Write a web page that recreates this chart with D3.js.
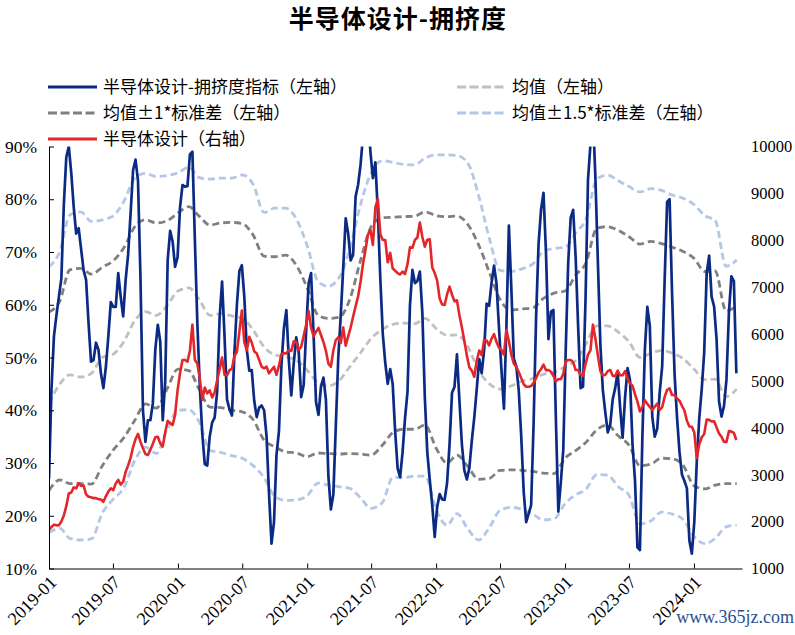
<!DOCTYPE html>
<html><head><meta charset="utf-8">
<script src="https://cdn.jsdelivr.net/npm/d3@7"></script>
<style>body{margin:0;background:#fff}</style>
</head><body>
<svg id="c" width="795" height="635"></svg>
<script>
// ---------- data ----------
const weekStart = "2019-01-01";   // weekly series start
const crowdIndex = [
27,44,54,58,61.5,65,79,88,90,85,
78.5,73.5,74.5,70.5,66.5,64.7,56.5,49.2,49.5,52.8,
51.5,47,44.2,48.2,54,60.5,59.6,59.6,66,61.5,
57.8,64.7,69.5,77.3,85.5,87.5,83.5,65,40,34,
38.1,38.1,41.3,51.5,56.2,53,38.1,45.5,68.5,74,
72,67.2,69,78.5,82.7,82.4,82.5,88.5,89,72.3,
56.5,44.5,35.5,29.8,29.5,35,37.7,38.6,43.5,57.5,
64.4,54,42,40.2,39,51,60,66.4,67.5,61.5,
51.5,47.5,47.6,41.8,38.7,40.5,40.9,40,35,24,
14.7,18.8,31.5,36,48.5,55.5,59,49.5,42.8,49,
53.8,51,42.5,44.8,55,64,66,54.5,41.5,39.1,
44.5,46.2,42,27.5,21.2,24,37,50,58,67,
76.4,73.5,68.4,69.5,80.5,82.7,86.5,92,96,96,
89,84,87,77.5,65,54.5,49,45,47.8,45,
36,29,27.3,32,38.5,43.5,60,66.6,64.1,64.5,
66.3,58.5,42.5,32,26.8,22,16,21.7,24.1,23.1,
23,26.2,33.5,43.3,44.4,50.6,41.8,33.5,28.6,26.9,
29,34.2,38.6,44,49.7,47,51.5,60.2,59.8,64.2,
67.4,64,55.6,47.6,40.3,55.8,75,63,49.8,48.3,
43.7,35,24.5,18.8,20.4,22,37.5,57.5,71.5,78,
81.2,70,53.5,58.7,59,38.5,20.8,26.3,32.5,51.5,
68,76.5,78,69,56,44.2,44.5,61,83.7,90.5,
96,84,68,52.5,43.8,39.6,35.8,37.3,42.1,44.2,
47.2,40.5,34.8,42.5,48,45.7,33.5,26.8,14,13.5,
35,51.5,59.6,56,38.8,35,36.5,43.4,48.3,64.7,
79.5,80,62.2,47,38.7,32.1,27.8,26.6,25.2,15.3,
12.8,18.9,30.3,38.5,44,51,66,69.3,61.5,59.7,
53.5,41.7,38.8,40.8,45.8,58.5,65.4,64.5,47
];
const sectorPrice = [
1830,1885,1935,1920,1925,2000,2130,2330,2600,2620,
2730,2710,2820,2760,2770,2580,2529,2520,2500,2500,
2480,2470,2422,2540,2640,2710,2671,2815,2890,2790,
2850,3060,3200,3360,3590,3760,3870,3700,3565,3440,
3420,3530,3660,3800,3810,3668,3600,3900,4150,4095,
4060,4280,4800,5170,5446,5446,5410,5650,6200,5446,
5370,5050,4600,4860,4735,4800,4650,4760,5010,5250,
5500,5130,5120,5230,5260,5530,5620,6050,6500,5830,
5650,5943,5820,5630,5589,5446,5304,5270,5304,5162,
5233,5300,5130,5320,5570,5589,5589,5660,5640,5845,
5830,5660,5730,5960,6200,6490,6140,5950,6050,6130,
5980,5830,5640,5370,5304,5650,5873,5930,5810,6140,
5750,5950,6140,6370,6590,6797,7110,7500,7793,8120,
8220,7900,8700,8880,8130,8007,8007,7530,7730,7400,
7350,7300,7270,7330,7280,7490,7850,7840,8007,8060,
8380,8070,7864,8010,8020,7420,7300,7140,6760,6630,
6620,6850,7010,6840,6700,6720,6400,6140,5850,5540,
5290,5220,5090,5430,5650,5550,5873,5860,5760,5900,
6000,5830,5710,5660,5560,6086,5850,5560,5370,5300,
5190,5060,4930,4877,4877,4890,4960,5060,5180,5250,
5350,5230,5233,5195,5110,4990,5040,5035,5150,5420,
5446,5446,5400,5233,5233,5130,5110,5360,5560,5650,
6200,5900,5540,5210,5120,5130,5210,5233,5110,5100,
5220,5120,5120,5210,5050,4949,4900,4720,4560,4350,
4450,4590,4510,4445,4379,4450,4515,4380,4440,4660,
4810,4841,4700,4700,4625,4580,4470,4370,4150,4030,
4023,3900,3350,3650,3800,3870,4175,4170,4135,4140,
4010,3880,3810,3700,3700,3930,3920,3890,3740
];
const monthStart = "2019-01-01";  // monthly band series start
const meanVals = [41.3,45,46.7,46.3,47,50,50.6,53,57,58.7,58,59.8,62.6,63.2,61,58,58.3,57.9,57.5,55.2,52,50.5,50.1,49.5,47.6,45.2,44.6,45.6,48.2,50.9,53.6,55.3,56.3,56.5,56.4,57.4,55.5,54.2,54.3,52,47.6,45,44,44.6,45.5,46,46.8,47.2,48.2,49.5,52.5,56,56,54.8,53,50,50.8,51.3,50.8,49.8,47.8,45.8,45.9,42.6,44];
const up1Vals = [58.6,60.8,66.6,66.9,65.8,67.1,68.3,70.8,74.8,76.1,75.5,75.9,77.4,78.6,76.8,75.1,75.5,75.6,75.4,73.2,69.2,69.1,69.4,67.5,63.2,58,57.4,57.6,60.9,68.4,74.8,76.5,76.6,76.7,76.8,77.6,76.9,76.7,76.8,75.2,71.4,66.1,61,59,59.2,59.4,61.2,62.2,62.6,65.7,67.9,74.5,74.8,74.1,72.9,71.5,72,71.6,70.9,70.1,68.8,66.3,66.4,58.8,59.9];
const dn1Vals = [24.8,26.8,26.1,26.1,26,29.5,32.4,34.8,38.1,41.2,40.4,44,47.8,47.5,44,40.6,40.5,40,39.7,38.2,34.3,33.1,32.1,31.9,31.2,31.9,31.8,31.7,31.8,31.7,31.5,33.3,35.8,36.4,36.4,37.2,32.8,30,31.5,29.3,26.9,27.1,28.6,28.7,28.6,28.4,28.1,28,30.9,32.4,33.9,36.3,37.2,35.1,33.4,29.5,29.8,30.9,30.8,29.6,25.7,25.1,25.8,26.1,26.1];
const up15Vals = [67.2,70.2,77,77.6,75.8,76.1,76.8,79.6,84,84.9,84.3,84.5,85,86.1,84.1,83.8,84,84,84.6,82.8,77.5,78.3,78.3,76.3,71.2,64.4,63.5,65.1,70.4,79,85,87.3,87,86.6,86.5,87.8,88.4,88.4,88.3,86.8,80.8,72.5,66.5,66.3,66.8,67.7,70.1,70.7,70.9,73.7,76.2,83.8,84.6,83.5,82.4,81.4,82,81.7,80.8,80.2,79,76.9,76,67.3,68.5];
const dn15Vals = [16.8,17.6,15.7,15.4,15.6,20.5,23.1,25.3,30.5,33,31.8,36.3,40,40.1,37.8,32.4,32,31.4,30.9,29.5,27.2,23.7,22.9,23,23.8,26.2,25.8,25.5,25.2,23.4,21.4,22.4,27.3,27.2,27.5,27.5,21.2,18.2,20.4,17.5,15.4,17.8,21,21.6,21.2,20.3,19.2,19.4,22.3,24,25,27.8,27.7,25.5,23.9,18.5,19,20.7,20.3,19.3,16.1,14.7,15.7,17.9,18.2];
const xTickLabels = ["2019-01","2019-07","2020-01","2020-07","2021-01","2021-07","2022-01","2022-07","2023-01","2023-07","2024-01"];
const leftTicks = [10,20,30,40,50,60,70,80,90];
const rightTicks = [1000,2000,3000,4000,5000,6000,7000,8000,9000,10000];
const legendItems = [
  {name:"半导体设计-拥挤度指标（左轴）", color:"#0b2a84", dash:null},
  {name:"均值（左轴）", color:"#c0c0c0", dash:"9,3.5"},
  {name:"均值±1*标准差（左轴）", color:"#808080", dash:"9,3.5"},
  {name:"均值±1.5*标准差（左轴）", color:"#b4c7e7", dash:"9,3.5"},
  {name:"半导体设计（右轴）", color:"#e3262a", dash:null}
];

// ---------- chart ----------
const svg = d3.select("#c");
const parse = d3.timeParse("%Y-%m-%d");
const pL = 49, pR = 742, pT = 146.5, pB = 568.5;
const x = d3.scaleTime().domain([parse("2019-01-01"), parse("2024-05-16")]).range([pL, pR]);
const yL = d3.scaleLinear().domain([10, 90]).range([pB, pT]);
const yR = d3.scaleLinear().domain([1000, 10000]).range([pB, pT]);
const serif = "'Liberation Serif','Times New Roman','DejaVu Serif',serif";
const cjk = "'Noto Sans CJK SC','Noto Sans',sans-serif";

svg.append("text").attr("x", 398).attr("y", 28).attr("text-anchor","middle")
  .style("font-family", cjk).style("font-weight","bold").style("font-size","25px")
  .style("letter-spacing","1px")
  .text("半导体设计-拥挤度");

// legend
const legPos = [[48,87],[457,87],[48,113],[457,113],[48,139]];
legendItems.forEach((d,i)=>{
  const [lx,ly] = legPos[i];
  svg.append("line").attr("x1",lx).attr("x2",lx+49).attr("y1",ly).attr("y2",ly)
    .attr("stroke",d.color).attr("stroke-width",3).attr("stroke-dasharray",d.dash);
  svg.append("text").attr("x",lx+55).attr("y",ly).attr("dy","0.36em")
    .style("font-family",cjk).style("font-size","17px").attr("fill","#000").text(d.name);
});

// clip
svg.append("clipPath").attr("id","clip").append("rect")
  .attr("x",pL).attr("y",pT).attr("width",pR-pL).attr("height",pB-pT);

const wDates = crowdIndex.map((_,i)=>d3.timeDay.offset(parse(weekStart), 7*i));
const mDates = meanVals.map((_,i)=>d3.timeMonth.offset(parse(monthStart), i));

const g = svg.append("g").attr("clip-path","url(#clip)");
const bandLine = d3.line().x((d,i)=>x(mDates[i])).y(d=>yL(d)).curve(d3.curveMonotoneX);
[[up15Vals,"#b4c7e7"],[dn15Vals,"#b4c7e7"],[up1Vals,"#808080"],[dn1Vals,"#808080"],[meanVals,"#c0c0c0"]]
 .forEach(([arr,col])=>{
  g.append("path").attr("d",bandLine(arr)).attr("fill","none").attr("stroke",col)
   .attr("stroke-width",2.8).attr("stroke-dasharray","7,4");
 });
g.append("path").attr("d", d3.line().x((d,i)=>x(wDates[i])).y(d=>yL(d))(crowdIndex))
  .attr("fill","none").attr("stroke","#0b2a84").attr("stroke-width",2.7).attr("stroke-linejoin","round");
g.append("path").attr("d", d3.line().x((d,i)=>x(wDates[i])).y(d=>yR(d))(sectorPrice))
  .attr("fill","none").attr("stroke","#e3262a").attr("stroke-width",2.6).attr("stroke-linejoin","round");

// axes
const axL = d3.axisLeft(yL).tickValues(leftTicks).tickFormat(d=>d+"%").tickSizeInner(-5).tickSizeOuter(0).tickPadding(12);
const gL = svg.append("g").attr("transform",`translate(${pL},0)`).call(axL);
gL.attr("font-family",null).attr("font-size",null);
gL.selectAll("text").style("font-family",serif).style("font-size","17.5px").attr("fill","#000");
gL.selectAll("line,path").attr("stroke","#000");

const axR = d3.axisRight(yR).tickValues(rightTicks).tickFormat(d3.format("d")).tickSize(0).tickPadding(9);
const gR = svg.append("g").attr("transform",`translate(${pR},0)`).call(axR);
gR.attr("font-family",null).attr("font-size",null);
gR.select(".domain").remove();
gR.selectAll("text").style("font-family",serif).style("font-size","16.5px").attr("fill","#000");

const tickDates = xTickLabels.map(s=>parse(s+"-01"));
const axB = d3.axisBottom(x).tickValues(tickDates).tickFormat(d3.timeFormat("%Y-%m")).tickSizeInner(-5).tickSizeOuter(0);
const gB = svg.append("g").attr("transform",`translate(0,${pB})`).call(axB);
gB.attr("font-family",null).attr("font-size",null);
gB.selectAll("line,path").attr("stroke","#000");
gB.selectAll("text").style("font-family",serif).style("font-size","18px").attr("fill","#000")
  .attr("text-anchor","end").attr("dy",0).attr("y",0)
  .attr("transform","translate(8,15) rotate(-45)");

svg.append("text").attr("x",794).attr("y",623).attr("text-anchor","end")
  .style("font-family",serif).style("font-size","18px").attr("fill","#2a4f8f").text("www.365jz.com");
</script>
</body></html>
